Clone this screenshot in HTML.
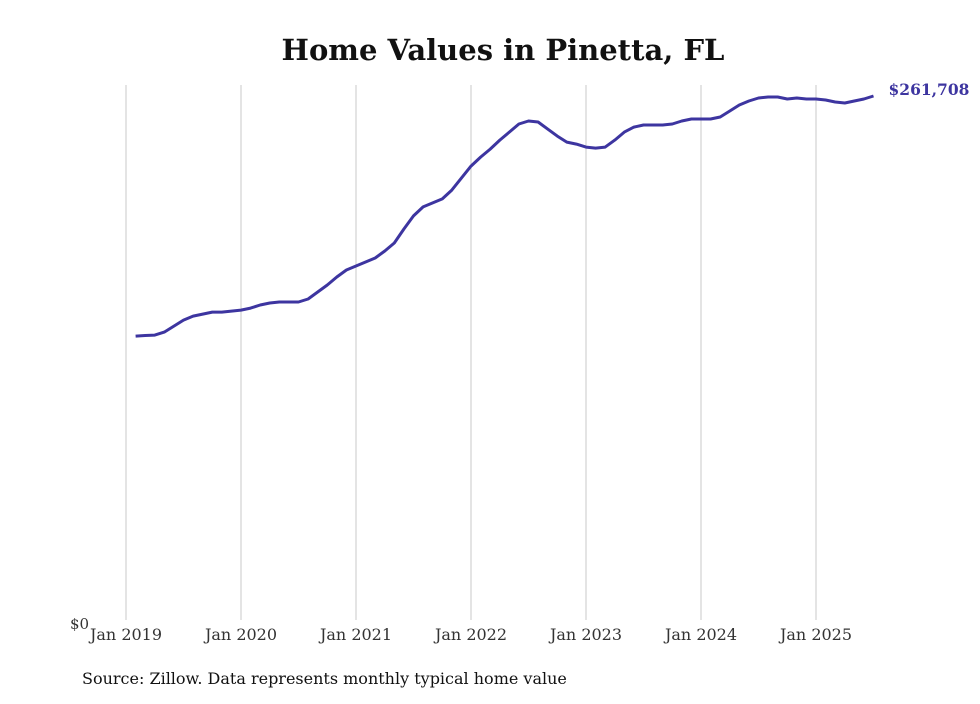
<!DOCTYPE html>
<html><head><meta charset="utf-8"><style>
body{margin:0;background:#fff;}
svg text{font-family:"DejaVu Serif","Liberation Serif",serif;}
</style></head><body>
<svg id="chart" width="980" height="699" xmlns="http://www.w3.org/2000/svg">
<text x="503" y="60" text-anchor="middle" font-size="29" font-weight="bold" fill="#111">Home Values in Pinetta, FL</text>
<g id="grid"></g><g id="xt"></g>
<text x="70" y="629" font-size="15" fill="#333">$0</text>
<path id="line" fill="none" stroke="#3d35a0" stroke-width="3" stroke-linejoin="round"/>
<text id="endlab" font-size="15.5" font-weight="bold" fill="#3d35a0"></text>
<text x="82" y="684" font-size="16" fill="#111">Source: Zillow. Data represents monthly typical home value</text>
</svg>
<script>
const years=["Jan 2019","Jan 2020","Jan 2021","Jan 2022","Jan 2023","Jan 2024","Jan 2025"];
const startMonth=1; // Feb 2019 (months since Jan 2019)
const values=[141.8,142.1,142.3,143.8,146.8,149.8,151.8,152.8,153.8,153.8,154.3,154.8,155.8,157.3,158.3,158.8,158.8,158.8,160.3,163.8,167.3,171.3,174.8,176.8,178.8,180.8,184.3,188.3,195.3,201.8,206.3,208.3,210.3,214.7,220.7,226.7,231.2,235.2,239.7,243.7,247.7,249.2,248.7,245.2,241.7,238.7,237.7,236.2,235.7,236.2,239.7,243.7,246.2,247.2,247.2,247.2,247.7,249.2,250.2,250.2,250.2,251.2,254.2,257.2,259.2,260.7,261.2,261.2,260.2,260.7,260.2,260.2,259.7,258.7,258.2,259.2,260.2,261.708];
const lastLabel="$261,708";
const ns="http://www.w3.org/2000/svg";
const x=m=>126+m*(690/72);
const y=v=>620-v*524/261.708;
const grid=document.getElementById('grid'),xt=document.getElementById('xt');
years.forEach((t,i)=>{
 const l=document.createElementNS(ns,'line');
 
 
 l.setAttribute('x1',x(i*12));l.setAttribute('x2',x(i*12));l.setAttribute('y1',85);l.setAttribute('y2',620);
 l.setAttribute('stroke','#c8c8c8');l.setAttribute('stroke-width','1');grid.appendChild(l);
 const tx=document.createElementNS(ns,'text');
 
 
 tx.setAttribute('x',x(i*12));tx.setAttribute('y',640);tx.setAttribute('text-anchor','middle');
 tx.setAttribute('font-size','16');tx.setAttribute('fill','#333');tx.textContent=t;xt.appendChild(tx);
});
let d='';values.forEach((v,i)=>{d+=(i?'L':'M')+x(startMonth+i).toFixed(1)+','+y(v).toFixed(1);});
document.getElementById('line').setAttribute('d',d);
const el=document.getElementById('endlab');const li=values.length-1;
el.setAttribute('x',x(startMonth+li)+15);el.setAttribute('y',y(values[li])-1);el.textContent=lastLabel;
</script>
</body></html>
